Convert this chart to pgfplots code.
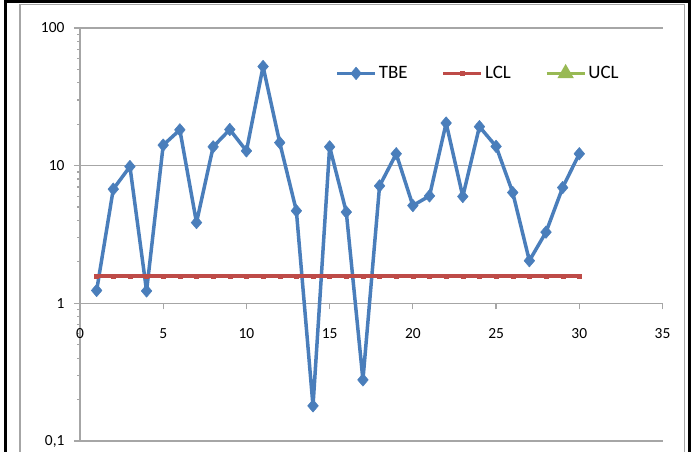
\documentclass[border=0pt]{standalone}
\usepackage{fontspec}
\setmainfont{Carlito}
\usepackage{pgfplots}
\pgfplotsset{compat=1.18}
\definecolor{tbe}{HTML}{4A7EBB}
\definecolor{lcl}{HTML}{BE4B48}
\definecolor{ucl}{HTML}{98B954}
\definecolor{gridc}{HTML}{A6A6A6}
\begin{document}
\begin{tikzpicture}[x=1bp,y=1bp]
\useasboundingbox (0,0) rectangle (693,452);
% frame
\draw[gridc,line width=1.2bp] (20,0) -- (20,447.5) -- (684.5,447.5) -- (684.5,0);
\draw[black,line width=3bp] (5.5,0) -- (5.5,450.5) -- (689.5,450.5) -- (689.5,0);
\begin{axis}[
  at={(80bp,11bp)}, anchor=south west,
  scale only axis, width=582.5bp, height=413bp,
  ymode=log, xmin=0, xmax=35, ymin=0.1, ymax=100,
  axis y line=left, axis x line=middle,
  hide obscured x ticks=false, hide obscured y ticks=false,
  axis line style={-, gridc, line width=1.2bp},
  ytick={0.1,1,10,100}, yticklabels={{0,1},1,10,100},
  xtick={0,5,10,15,20,25,30,35}, xticklabels={0,5,10,15,20,25,30,35},
  minor ytick={}, 
  tick style={gridc, line width=1.2bp},
  tick align=outside, major tick length=6bp,
  ymajorgrids, grid style={gridc, line width=1.2bp},
  tick label style={font=\fontsize{15.5}{16}\selectfont, text=black},
  xticklabel style={yshift=-16bp},
  yticklabel style={xshift=-6bp},
  legend style={at={(0.438,0.890)}, anchor=west, draw=none, fill=none,
    font=\fontsize{19}{20}\selectfont, inner sep=0pt,
    /tikz/every even column/.append style={column sep=32bp}},
  legend columns=3,
  legend image code/.code={\draw[#1] (0bp,0bp) -- (38bp,0bp); \draw[#1, mark repeat=1] plot coordinates {(19bp,0bp)};},
  clip=false,
]
\addplot[color=tbe, line width=3.5bp, line join=round, mark=diamond*, mark size=6.3bp, mark options={solid, fill=tbe, line width=0.5bp, xscale=1.13}]
coordinates {
(1,1.24) (2,6.75) (3,9.85) (4,1.23) (5,14.1) (6,18.2) (7,3.86) (8,13.7) (9,18.3) (10,12.8)
(11,52.5) (12,14.7) (13,4.7) (14,0.18) (15,13.7) (16,4.6) (17,0.278) (18,7.13) (19,12.2) (20,5.13)
(21,6.03) (22,20.4) (23,5.97) (24,19.2) (25,13.8) (26,6.38) (27,2.04) (28,3.29) (29,6.93) (30,12.2)
};
\addlegendentry{TBE}
\addplot[color=lcl, line width=3.5bp, mark=square*, mark size=2bp, mark options={solid, fill=lcl, line width=0.3bp}]
coordinates {
(1,1.585) (2,1.585) (3,1.585) (4,1.585) (5,1.585) (6,1.585) (7,1.585) (8,1.585) (9,1.585) (10,1.585)
(11,1.585) (12,1.585) (13,1.585) (14,1.585) (15,1.585) (16,1.585) (17,1.585) (18,1.585) (19,1.585) (20,1.585)
(21,1.585) (22,1.585) (23,1.585) (24,1.585) (25,1.585) (26,1.585) (27,1.585) (28,1.585) (29,1.585) (30,1.585)
};
\addlegendentry{LCL}
\addlegendimage{color=ucl, line width=3.5bp, mark=triangle*, mark size=6bp, mark options={solid, fill=ucl}}
\addlegendentry{UCL}
\end{axis}
\end{tikzpicture}
\end{document}
